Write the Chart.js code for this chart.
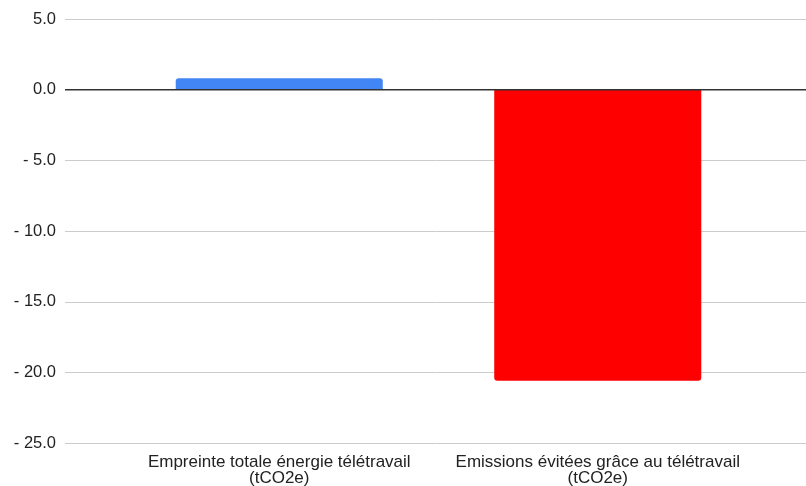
<!DOCTYPE html>
<html>
<head>
<meta charset="utf-8">
<script src="https://cdn.jsdelivr.net/npm/chart.js@4"></script>
<style>
  html, body { margin: 0; padding: 0; background: #fff; }
  canvas { display: block; }
</style>
</head>
<body>
<canvas id="chart" width="806" height="486"></canvas>
<script>
// Données
const categories = [
    ["Empreinte totale énergie télétravail", "(tCO2e)"],
    ["Emissions évitées grâce au télétravail", "(tCO2e)"]
];
const valeurs = [0.8, -20.6];
const couleurs = ["#4285F4", "#FF0000"];
const yMin = -25;
const yMax = 5;
const yPas = 5;

// Lignes de grille sur toute la largeur (comme Google Sheets)
const grillePlugin = {
    id: 'grille',
    beforeDatasetsDraw(chart) {
        const ctx = chart.ctx;
        const y = chart.scales.y;
        ctx.save();
        ctx.strokeStyle = '#cccccc';
        ctx.lineWidth = 1;
        y.ticks.forEach(t => {
            if (t.value === 0) return;
            const py = Math.round(y.getPixelForValue(t.value)) + 0.5;
            ctx.beginPath();
            ctx.moveTo(65, py);
            ctx.lineTo(chart.width, py);
            ctx.stroke();
        });
        ctx.restore();
    },
    afterDatasetsDraw(chart) {
        const ctx = chart.ctx;
        const py = chart.scales.y.getPixelForValue(0);
        ctx.save();
        ctx.strokeStyle = '#333333';
        ctx.lineWidth = 1.5;
        ctx.beginPath();
        ctx.moveTo(65, py);
        ctx.lineTo(chart.width, py);
        ctx.stroke();
        ctx.restore();
    }
};

const ctx = document.getElementById('chart').getContext('2d');
new Chart(ctx, {
    type: 'bar',
    data: {
        labels: categories,
        datasets: [{
            data: valeurs,
            backgroundColor: couleurs,
            borderRadius: 3,
            categoryPercentage: 1,
            barPercentage: 0.65
        }]
    },
    options: {
        responsive: false,
        animation: false,
        layout: { padding: { top: 19, right: 49, left: 0, bottom: 0 } },
        plugins: {
            legend: { display: false },
            tooltip: { enabled: false }
        },
        scales: {
            x: {
                grid: { display: false },
                border: { display: false },
                ticks: {
                    color: '#222',
                    font: { family: 'Liberation Sans, Arial', size: 17, lineHeight: 0.9 },
                    padding: 4,
                    maxRotation: 0,
                    autoSkip: false
                },
                afterFit(scale) { scale.height = 43; }
            },
            y: {
                min: yMin,
                max: yMax,
                grid: { display: false, drawTicks: false },
                border: { display: false },
                ticks: {
                    stepSize: yPas,
                    color: '#222',
                    padding: 64,
                    font: { family: 'Liberation Sans, Arial', size: 16.5 },
                    callback: v => v < 0 ? '- ' + Math.abs(v).toFixed(1) : v.toFixed(1)
                },
                afterFit(scale) {
                    scale.width = 120;
                    scale.paddingTop = 0;
                    scale.paddingBottom = 0;
                }
            }
        }
    },
    plugins: [grillePlugin]
});
</script>
</body>
</html>
